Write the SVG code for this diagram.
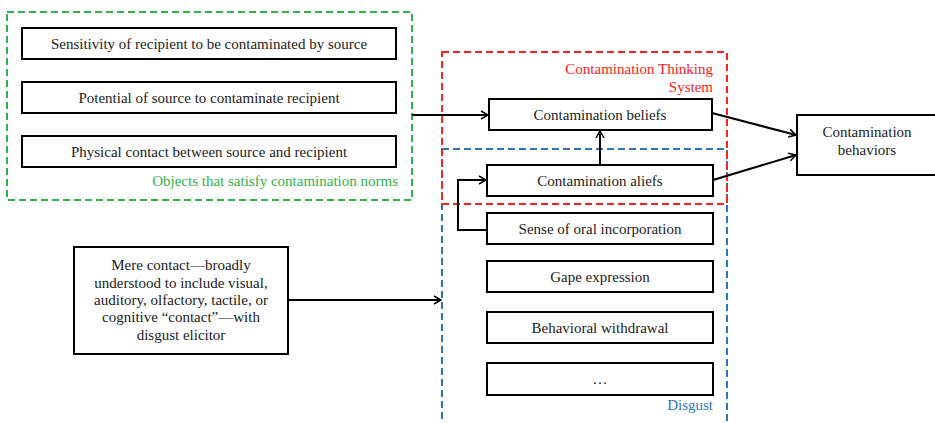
<svg xmlns="http://www.w3.org/2000/svg" width="935" height="423" viewBox="0 0 935 423">
<defs>
<marker id="ah" markerWidth="10" markerHeight="10" refX="9" refY="5" orient="auto" markerUnits="userSpaceOnUse">
<path d="M2,1 L9,5 L2,9" fill="none" stroke="#000" stroke-width="1.5"/>
</marker>
<style>
text{font-family:"Liberation Serif","Times New Roman",serif;font-size:15px;fill:#222;}
.box{fill:#fff;stroke:#000;stroke-width:2;}
.c{text-anchor:middle;}
.r{text-anchor:end;}
.grp{fill:none;stroke-width:2;stroke-dasharray:7,4;}
.conn{fill:none;stroke:#000;stroke-width:2;}
</style>
</defs>
<rect width="935" height="423" fill="#fff"/>
<g id="group-norms">
<rect class="grp" x="7" y="12" width="405" height="188" stroke="#2db34a"/>
<text class="r" x="398" y="186" style="fill:#2db34a">Objects that satisfy contamination norms</text>
</g>
<g id="group-disgust">
<rect class="grp" x="442" y="149" width="285" height="290" stroke="#2e75b6"/>
<text class="r" x="713" y="410" style="fill:#2e75b6">Disgust</text>
</g>
<g id="group-cts">
<rect class="grp" x="442" y="52" width="285" height="152" stroke="#ff2020"/>
<text class="r" x="713" y="74" style="fill:#ff2020">Contamination Thinking</text>
<text class="r" x="713" y="92" style="fill:#ff2020">System</text>
</g>
<g id="n-sensitivity"><rect class="box" x="22" y="28" width="374" height="31"/><text class="c" x="209" y="48.5">Sensitivity of recipient to be contaminated by source</text></g>
<g id="n-potential"><rect class="box" x="22" y="82" width="374" height="31"/><text class="c" x="209" y="102.5">Potential of source to contaminate recipient</text></g>
<g id="n-physical"><rect class="box" x="22" y="136" width="374" height="31"/><text class="c" x="209" y="156.5">Physical contact between source and recipient</text></g>
<g id="n-mere"><rect class="box" x="74" y="247" width="214" height="107"/>
<text class="c" x="181" y="270">Mere contact—broadly</text>
<text class="c" x="181" y="288">understood to include visual,</text>
<text class="c" x="181" y="305">auditory, olfactory, tactile, or</text>
<text class="c" x="181" y="322">cognitive “contact”—with</text>
<text class="c" x="181" y="340">disgust elicitor</text>
</g>
<g id="n-beliefs"><rect class="box" x="489" y="99" width="223" height="31"/><text class="c" x="600" y="119.5">Contamination beliefs</text></g>
<g id="n-aliefs"><rect class="box" x="487" y="165" width="226" height="31"/><text class="c" x="600" y="185.5">Contamination aliefs</text></g>
<g id="n-oral"><rect class="box" x="487" y="213" width="226" height="31"/><text class="c" x="600" y="233.5">Sense of oral incorporation</text></g>
<g id="n-gape"><rect class="box" x="487" y="261" width="226" height="31"/><text class="c" x="600" y="281.5">Gape expression</text></g>
<g id="n-withdrawal"><rect class="box" x="487" y="312" width="226" height="31"/><text class="c" x="600" y="332.5">Behavioral withdrawal</text></g>
<g id="n-etc"><rect class="box" x="487" y="363" width="226" height="32"/><text class="c" x="600" y="384">…</text></g>
<g id="n-behaviors"><rect class="box" x="797" y="115" width="140" height="60"/>
<text class="c" x="867" y="137">Contamination</text>
<text class="c" x="867" y="155">behaviors</text>
</g>
<g id="connectors">
<path class="conn" d="M412,115 L488,115" marker-end="url(#ah)"/>
<path class="conn" d="M600,165 L600,131" marker-end="url(#ah)"/>
<path class="conn" d="M487,230 L458,230 L458,180 L486,180" marker-end="url(#ah)"/>
<path class="conn" d="M288,300 L441,300" marker-end="url(#ah)"/>
<path class="conn" d="M712,113 L796,135" marker-end="url(#ah)"/>
<path class="conn" d="M713,180 L796,155" marker-end="url(#ah)"/>
</g>
</svg>
